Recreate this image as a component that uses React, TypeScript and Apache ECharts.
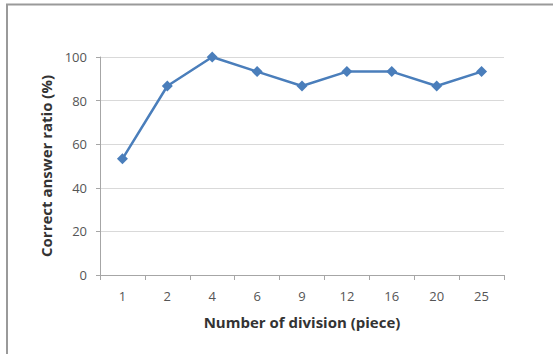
import React, { useEffect, useRef } from "react";
import * as echarts from "echarts";

// Number of pieces each item was divided into
const divisions = ["1", "2", "4", "6", "9", "12", "16", "20", "25"];
// Correct answer ratio (%) for each division count
const correctRatio = [53.3, 86.7, 100, 93.3, 86.7, 93.3, 93.3, 86.7, 93.3];
// Y axis range
const yMin = 0;
const yMax = 100;
const yStep = 20;

const FONT = "'Open Sans', 'Liberation Sans', 'DejaVu Sans', sans-serif";

export default function App() {
  const ref = useRef<HTMLDivElement>(null);

  useEffect(() => {
    if (!ref.current) return;
    const chart = echarts.init(ref.current, undefined, { renderer: "svg" });
    chart.setOption({
      animation: false,
      backgroundColor: "#ffffff",
      graphic: [
        {
          type: "rect",
          shape: { x: 7, y: 4.5, width: 600, height: 400 },
          style: { fill: "none", stroke: "#9a9a9a", lineWidth: 2 },
          silent: true,
        },
      ],
      grid: { left: 100, right: 49, top: 57, bottom: 79, containLabel: false },
      xAxis: {
        type: "category",
        data: divisions,
        boundaryGap: true,
        name: "Number of division (piece)",
        nameLocation: "middle",
        nameGap: 39,
        nameTextStyle: { fontFamily: FONT, fontSize: 15, fontWeight: "bold", color: "#333333" },
        axisLine: { lineStyle: { color: "#a6a6a6", width: 1 } },
        axisTick: { show: true, length: 5, alignWithLabel: false, lineStyle: { color: "#a6a6a6" } },
        axisLabel: { fontFamily: FONT, fontSize: 13, color: "#555555", margin: 14 },
        splitLine: { show: false },
      },
      yAxis: {
        type: "value",
        min: yMin,
        max: yMax,
        interval: yStep,
        name: "Correct answer ratio (%)",
        nameLocation: "middle",
        nameGap: 43,
        nameRotate: 90,
        nameTextStyle: { fontFamily: FONT, fontSize: 15, fontWeight: "bold", color: "#333333" },
        axisLine: { show: true, lineStyle: { color: "#a6a6a6", width: 1 } },
        axisTick: { show: true, length: 4, lineStyle: { color: "#a6a6a6" } },
        axisLabel: { fontFamily: FONT, fontSize: 13, color: "#555555", margin: 13 },
        splitLine: { show: true, lineStyle: { color: "#d9d9d9", width: 1 } },
      },
      series: [
        {
          type: "line",
          data: correctRatio,
          symbol: "diamond",
          symbolSize: 11,
          lineStyle: { color: "#4a7ebb", width: 2.5 },
          itemStyle: { color: "#4a7ebb" },
        },
      ],
    });
    return () => chart.dispose();
  }, []);

  return (
    <div
      ref={ref}
      style={{ position: "absolute", left: 0, top: 0, width: 553, height: 354 }}
    />
  );
}
